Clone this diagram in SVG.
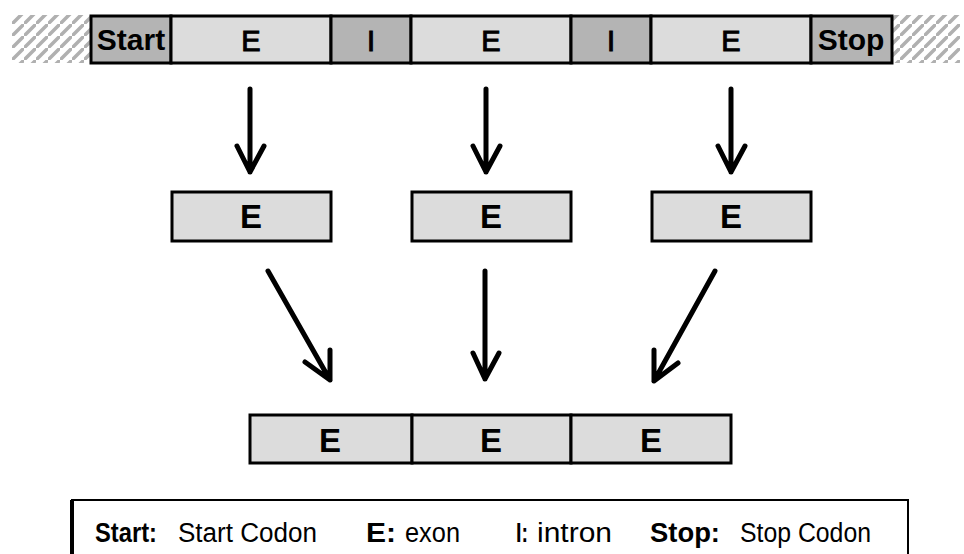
<svg xmlns="http://www.w3.org/2000/svg" width="964" height="554" viewBox="0 0 964 554">
<style>
.ex{fill:#dcdcdc;stroke:#000;stroke-width:3}
.in{fill:#b4b4b4;stroke:#000;stroke-width:3}
.t{font-family:"Liberation Sans",Arial,sans-serif;fill:#000;text-anchor:middle}
.tb{font-size:29px;stroke:#000;stroke-width:1}
.tbb{font-size:30px;font-weight:bold}
.te{font-size:33px;font-weight:bold}
.lg{font-family:"Liberation Sans",Arial,sans-serif;font-size:27px;fill:#000}
.lb{font-weight:bold}
.ar{fill:none;stroke:#000;stroke-width:5;stroke-linecap:round;stroke-linejoin:round}
</style>
<defs>
<pattern id="hatch" patternUnits="userSpaceOnUse" width="12" height="12">
<line x1="-2" y1="14" x2="14" y2="-2" stroke="#b0b0b0" stroke-width="3.5"/>
</pattern>
</defs>
<rect width="964" height="554" fill="#fff"/>
<rect x="12" y="15" width="78" height="48" fill="url(#hatch)"/>
<rect x="892" y="15" width="68" height="48" fill="url(#hatch)"/>
<g id="gene">
<g id="start"><rect class="in" x="91" y="16" width="80" height="47"/><text class="t tbb" x="131" y="50">Start</text></g>
<g id="e1"><rect class="ex" x="171" y="16" width="160" height="47"/><text class="t tb" x="251" y="51">E</text></g>
<g id="i1"><rect class="in" x="331" y="16" width="80" height="47"/><text class="t tb" x="371" y="51">I</text></g>
<g id="e2"><rect class="ex" x="411" y="16" width="160" height="47"/><text class="t tb" x="491" y="51">E</text></g>
<g id="i2"><rect class="in" x="571" y="16" width="80" height="47"/><text class="t tb" x="611" y="51">I</text></g>
<g id="e3"><rect class="ex" x="651" y="16" width="160" height="47"/><text class="t tb" x="731" y="51">E</text></g>
<g id="stop"><rect class="in" x="811" y="16" width="81" height="47"/><text class="t tbb" x="851" y="50">Stop</text></g>
</g>
<g id="m1"><rect class="ex" x="172" y="192" width="159" height="49"/><text class="t te" x="251" y="228">E</text></g>
<g id="m2"><rect class="ex" x="412" y="192" width="159" height="49"/><text class="t te" x="491" y="228">E</text></g>
<g id="m3"><rect class="ex" x="652" y="192" width="159" height="49"/><text class="t te" x="731" y="228">E</text></g>
<g id="b1"><rect class="ex" x="250" y="415" width="162" height="48"/><text class="t te" x="330" y="452">E</text></g>
<g id="b2"><rect class="ex" x="412" y="415" width="159" height="48"/><text class="t te" x="491" y="452">E</text></g>
<g id="b3"><rect class="ex" x="571" y="415" width="160" height="48"/><text class="t te" x="651" y="452">E</text></g>
<g id="connectors">
<path class="ar" d="M250,89 V172 M237,146 L250,172 L264,146"/>
<path class="ar" d="M486,89 V172 M473,146 L486,172 L500,146"/>
<path class="ar" d="M731,89 V172 M718,146 L731,172 L745,146"/>
<path class="ar" d="M268,271 L330,380 M330,350 V380 L305,362"/>
<path class="ar" d="M485,271 V379 M473,353 L485,379 L499,353"/>
<path class="ar" d="M715,271 L654,381 M654,350 V381 L678,363"/>
</g>
<g id="legend">
<path d="M72,554 V500 H908 V554" fill="none" stroke="#000" stroke-width="2"/>
<line x1="72" y1="500" x2="72" y2="554" stroke="#000" stroke-width="4"/>
<text class="lg lb" x="95" y="542" textLength="62" lengthAdjust="spacingAndGlyphs">Start:</text>
<text class="lg" x="178" y="542" textLength="139" lengthAdjust="spacingAndGlyphs">Start Codon</text>
<text class="lg lb" x="366" y="542" textLength="30" lengthAdjust="spacingAndGlyphs">E:</text>
<text class="lg" x="405" y="542" textLength="55" lengthAdjust="spacingAndGlyphs">exon</text>
<text class="lg lb" x="516" y="542" textLength="12" lengthAdjust="spacingAndGlyphs">I:</text>
<text class="lg" x="537" y="542" textLength="75" lengthAdjust="spacingAndGlyphs">intron</text>
<text class="lg lb" x="650" y="542" textLength="70" lengthAdjust="spacingAndGlyphs">Stop:</text>
<text class="lg" x="740" y="542" textLength="131" lengthAdjust="spacingAndGlyphs">Stop Codon</text>
</g>
</svg>
